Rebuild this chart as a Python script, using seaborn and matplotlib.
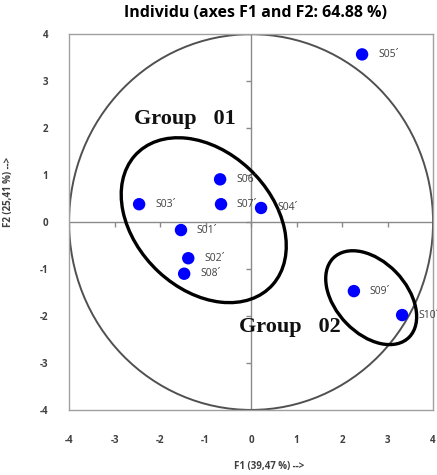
import numpy as np
import pandas as pd
import matplotlib
matplotlib.use("Agg")
import matplotlib.pyplot as plt
import seaborn as sns
from matplotlib.patches import Circle, Ellipse

labels = ["S01´", "S02´", "S03´", "S04´", "S05´", "S06´", "S07´", "S08´", "S09´", "S10´"]
f1 = [-1.54, -1.38, -2.46, 0.22, 2.44, -0.68, -0.66, -1.47, 2.26, 3.32]
f2 = [-0.17, -0.77, 0.38, 0.30, 3.57, 0.91, 0.38, -1.10, -1.47, -1.98]
ticks = [-4, -3, -2, -1, 0, 1, 2, 3, 4]

sns.set_style("white")
plt.rcParams['font.family'] = ['Open Sans', 'DejaVu Sans']

df = pd.DataFrame({"F1": f1, "F2": f2, "label": labels})

fig = plt.figure(figsize=(4.37, 4.75), dpi=100)
ax = fig.add_axes([0.158, 0.137, 0.833, 0.791])

sns.scatterplot(data=df, x="F1", y="F2", color="#0000FF", s=80, edgecolor="none", ax=ax, zorder=5, clip_on=False)

for _, r in df.iterrows():
    ax.text(r.F1 + 0.35, r.F2, r.label, fontsize=7.5, color="#404040", va="center", ha="left", zorder=6, clip_on=False)

# correlation-style circle
ax.add_patch(Circle((0, 0), 4, fill=False, edgecolor="#505050", lw=1.4, zorder=2))
# group ellipses
ax.add_patch(Ellipse((-1.04, 0.04), 4.09, 2.96, angle=-42, fill=False, edgecolor="black", lw=2.4, zorder=4))
ax.add_patch(Ellipse((2.64, -1.61), 2.37, 1.54, angle=-45, fill=False, edgecolor="black", lw=2.4, zorder=4))

# center cross with ticks
ax.axhline(0, color="#8a8a8a", lw=1.0, zorder=1)
ax.axvline(0, color="#8a8a8a", lw=1.0, zorder=1)
ax.plot(ticks, [0]*len(ticks), linestyle="none", marker=3, markersize=3.5, color="#8a8a8a", markeredgewidth=1.0, zorder=1)
ax.plot([0]*len(ticks), ticks, linestyle="none", marker=0, markersize=3.5, color="#8a8a8a", markeredgewidth=1.0, zorder=1)

ax.text(-1.45, 2.2, "Group   01", fontsize=16, fontweight="bold", family="Liberation Serif", ha="center", va="center", color="#111111")
ax.text(0.86, -2.24, "Group   02", fontsize=16, fontweight="bold", family="Liberation Serif", ha="center", va="center", color="#111111")

ax.set_xlim(-4, 4)
ax.set_ylim(-4, 4)
ax.set_xticks(ticks)
ax.set_yticks(ticks)
ax.set_xticklabels([str(t) for t in ticks], fontsize=7, fontweight="bold", color="#404040")
ax.set_yticklabels([str(t) for t in ticks], fontsize=7, fontweight="bold", color="#404040")
ax.tick_params(axis="both", length=0)
ax.tick_params(axis="x", pad=18)
ax.tick_params(axis="y", pad=15)
for sp in ax.spines.values():
    sp.set_color("#a0a0a0")
    sp.set_linewidth(1.0)

ax.set_xlabel("F1 (39,47 %) -->", fontsize=7, fontweight="bold", color="#404040")
ax.set_ylabel("F2 (25,41 %) -->", fontsize=7, fontweight="bold", color="#404040")
ax.xaxis.set_label_coords(0.55, -0.135)
ax.yaxis.set_label_coords(-0.15, 0.58)

fig.suptitle("Individu (axes F1 and F2: 64.88 %)", x=0.584, y=0.99, fontsize=11.5, fontweight="bold", color="black")

fig.savefig("out.png", dpi=100)
